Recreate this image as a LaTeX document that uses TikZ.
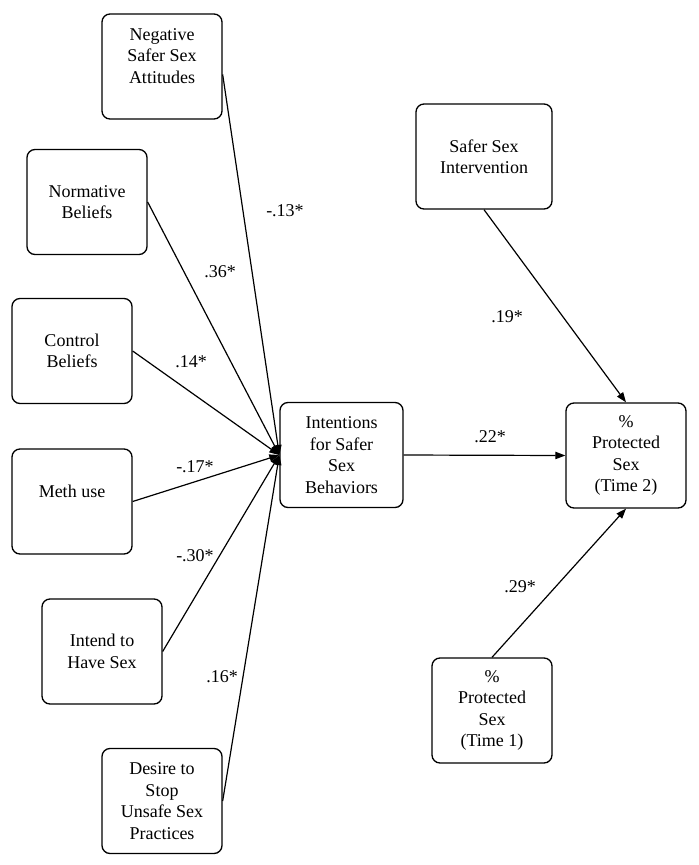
\documentclass[tikz,border=0pt]{standalone}
\usepackage{fontspec}
\setmainfont{Liberation Serif}
\usetikzlibrary{arrows.meta}
\begin{document}
\begin{tikzpicture}[x=0.75pt,y=-0.75pt,
  box/.style={draw, line width=1pt, rounded corners=6pt, align=center,
    minimum width=90pt, minimum height=78.75pt, inner sep=0pt,
    font=\fontsize{13.5}{16.1}\selectfont},
  lbl/.style={inner sep=0pt, font=\fontsize{13.5}{16.1}\selectfont},
  conn/.style={line width=0.9pt, -{Triangle[length=7.5pt,width=5.5pt]}}
]
\useasboundingbox (0,0) rectangle (699,865);
% boxes
\node[box] (neg) at (162,66.5) {Negative\\Safer Sex\\Attitudes\\\mbox{}};
\node[box] (norm) at (87,202) {Normative\\Beliefs};
\node[box] (ctrl) at (72,351) {Control\\Beliefs};
\node[box] (meth) at (72,501.5) {Meth use\\\mbox{}};
\node[box] (intend) at (102,651.5) {Intend to\\Have Sex};
\node[box] (desire) at (162,801) {Desire to\\Stop\\Unsafe Sex\\Practices};
\node[box, minimum width=92.25pt] (intent) at (341.5,455) {Intentions\\for Safer\\Sex\\Behaviors};
\node[box, minimum width=102pt] (interv) at (484,156.5) {Safer Sex\\Intervention};
\node[box] (t2) at (626,455.5) {\%\\Protected\\Sex\\(Time 2)};
\node[box] (t1) at (492,710.5) {\%\\Protected\\Sex\\(Time 1)};
% connectors
\draw[conn] ([yshift=-6pt]neg.east) -- (intent.west);
\draw[conn] (norm.east) -- (intent.west);
\draw[conn] (ctrl.east) -- (intent.west);
\draw[conn] (meth.east) -- (intent.west);
\draw[conn] (intend.east) -- (intent.west);
\draw[conn] (desire.east) -- (intent.west);
\draw[conn] (intent.east) -- (t2.west);
\draw[conn] (interv.south) -- (t2.north);
\draw[conn] (t1.north) -- (t2.south);
% labels
\node[lbl] (l1) at (285,211) {-.13*};
\node[lbl] (l2) at (220,272) {.36*};
\node[lbl] (l3) at (191,362) {.14*};
\node[lbl] (l4) at (195,467) {-.17*};
\node[lbl] (l5) at (195,556) {-.30*};
\node[lbl] (l6) at (222,677) {.16*};
\node[lbl] (l7) at (507,317) {.19*};
\node[lbl] (l8) at (490,437) {.22*};
\node[lbl] (l9) at (520,587) {.29*};
\end{tikzpicture}
\end{document}
